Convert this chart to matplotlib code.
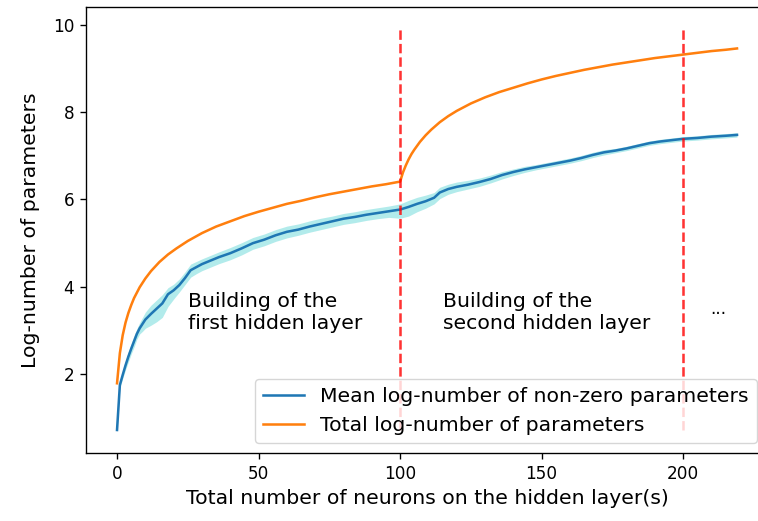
import numpy as np
import matplotlib
matplotlib.use("Agg")
import matplotlib.pyplot as plt

# Total neurons on the hidden layer(s) and log-number of all parameters
x_total = [0, 1, 2, 3, 4, 5, 6, 8, 10, 12, 15, 18, 21, 25, 30, 35, 40, 45, 50,
           55, 60, 65, 70, 75, 80, 85, 90, 95, 100, 101, 102, 103, 104, 105,
           107, 109, 111, 114, 117, 120, 125, 130, 135, 140, 145, 150, 155,
           160, 165, 170, 175, 180, 185, 190, 195, 200, 205, 210, 215, 219]
total_log = [1.79, 2.48, 2.89, 3.18, 3.40, 3.58, 3.74, 3.99, 4.19, 4.36, 4.57,
             4.74, 4.88, 5.05, 5.23, 5.38, 5.50, 5.62, 5.72, 5.81, 5.90, 5.97,
             6.05, 6.12, 6.18, 6.24, 6.30, 6.35, 6.41, 6.62, 6.78, 6.92, 7.04,
             7.14, 7.32, 7.47, 7.60, 7.77, 7.91, 8.03, 8.20, 8.34, 8.46, 8.56,
             8.66, 8.75, 8.83, 8.90, 8.97, 9.03, 9.09, 9.14, 9.19, 9.24, 9.28,
             9.32, 9.36, 9.40, 9.43, 9.46]

# Mean log-number of non-zero parameters with its spread
x_mean = [0, 1, 2, 3, 4, 5, 6, 7, 8, 9, 10, 12, 14, 16, 18, 20, 22, 24, 26,
          28, 30, 33, 36, 40, 44, 48, 52, 56, 60, 64, 68, 72, 76, 80, 84, 88,
          92, 96, 100, 103, 106, 109, 112, 114, 117, 120, 124, 128, 132, 136,
          140, 144, 148, 152, 156, 160, 164, 168, 172, 176, 180, 184, 188,
          192, 196, 200, 205, 210, 215, 219]
mean_log = [0.72, 1.75, 1.98, 2.20, 2.40, 2.58, 2.75, 2.92, 3.05, 3.15, 3.25,
            3.38, 3.50, 3.62, 3.83, 3.92, 4.04, 4.20, 4.38, 4.45, 4.52, 4.60,
            4.68, 4.77, 4.88, 5.00, 5.08, 5.18, 5.26, 5.31, 5.38, 5.44, 5.50,
            5.56, 5.60, 5.65, 5.69, 5.73, 5.77, 5.83, 5.90, 5.96, 6.04, 6.16,
            6.24, 6.29, 6.34, 6.40, 6.47, 6.56, 6.63, 6.69, 6.74, 6.79, 6.84,
            6.89, 6.95, 7.02, 7.08, 7.12, 7.17, 7.23, 7.29, 7.33, 7.36, 7.39,
            7.41, 7.44, 7.46, 7.48]
mean_low = [0.68, 1.68, 1.90, 2.10, 2.28, 2.46, 2.62, 2.80, 2.92, 2.98, 3.05,
            3.12, 3.20, 3.30, 3.55, 3.72, 3.88, 4.05, 4.22, 4.30, 4.37, 4.45,
            4.53, 4.62, 4.73, 4.86, 4.94, 5.04, 5.12, 5.18, 5.25, 5.31, 5.37,
            5.43, 5.47, 5.52, 5.56, 5.59, 5.57, 5.62, 5.72, 5.80, 5.90, 6.02,
            6.12, 6.18, 6.24, 6.30, 6.38, 6.47, 6.55, 6.62, 6.68, 6.73, 6.78,
            6.83, 6.89, 6.96, 7.02, 7.07, 7.12, 7.18, 7.24, 7.28, 7.31, 7.34,
            7.36, 7.39, 7.41, 7.43]
mean_high = [0.76, 1.82, 2.06, 2.30, 2.52, 2.70, 2.88, 3.04, 3.18, 3.30, 3.42,
             3.58, 3.70, 3.82, 3.98, 4.06, 4.18, 4.34, 4.52, 4.58, 4.64, 4.72,
             4.80, 4.90, 5.01, 5.13, 5.21, 5.31, 5.39, 5.44, 5.51, 5.57, 5.62,
             5.68, 5.72, 5.77, 5.81, 5.85, 5.90, 5.98, 6.05, 6.10, 6.16, 6.28,
             6.35, 6.40, 6.44, 6.49, 6.56, 6.64, 6.70, 6.76, 6.80, 6.85, 6.90,
             6.95, 7.01, 7.08, 7.14, 7.17, 7.22, 7.28, 7.34, 7.38, 7.41, 7.44,
             7.46, 7.49, 7.51, 7.53]

layer_bounds = [100, 200]
bound_span = [0.72, 9.9]

annotations = [
    (25, "Building of the\nfirst hidden layer"),
    (115, "Building of the\nsecond hidden layer"),
]

S = 1.22  # size factor for fonts and strokes
LABEL_SIZE = 12 * S
plt.rcParams.update({
    "font.size": 10 * S,
    "axes.linewidth": 0.8 * S,
    "xtick.major.size": 3.5 * S,
    "ytick.major.size": 3.5 * S,
    "xtick.major.width": 0.8 * S,
    "ytick.major.width": 0.8 * S,
    "xtick.major.pad": 3.5 * S,
    "ytick.major.pad": 3.5 * S,
    "axes.labelpad": 4.0 * S,
})

fig = plt.figure(figsize=(7.58, 5.21), dpi=100)
ax = fig.add_axes([0.1135, 0.1311, 0.8997, 0.8555])

ax.fill_between(x_mean, mean_low, mean_high, color="c", alpha=0.3, linewidth=0)
ax.plot(x_mean, mean_log, color="tab:blue", lw=1.5 * S,
        label="Mean log-number of non-zero parameters")
ax.plot(x_total, total_log, color="tab:orange", lw=1.5 * S,
        label="Total log-number of parameters")

for b in layer_bounds:
    ax.vlines(b, bound_span[0], bound_span[1], colors="red", linestyles="--",
              lw=1.5 * S, alpha=0.8)

for xt, txt in annotations:
    ax.text(xt, 3.87, txt, va="top", ha="left", fontsize=LABEL_SIZE)
ax.text(209.5, 3.38, "...", va="baseline", ha="left", fontsize=10 * S)

ax.set_xlim(-10.95, 229.95)
ax.set_ylim(0.2, 10.41)
ax.set_xticks([0, 50, 100, 150, 200])
ax.set_yticks([2, 4, 6, 8, 10])
ax.set_xlabel("Total number of neurons on the hidden layer(s)", fontsize=LABEL_SIZE)
ax.set_ylabel("Log-number of parameters", fontsize=LABEL_SIZE, labelpad=7.5 * S)

ax.legend(loc="lower right", bbox_to_anchor=(757 / 758, 78 / 521),
          bbox_transform=fig.transFigure, borderaxespad=0, fontsize=LABEL_SIZE)

fig.savefig("out.png", dpi=100)
